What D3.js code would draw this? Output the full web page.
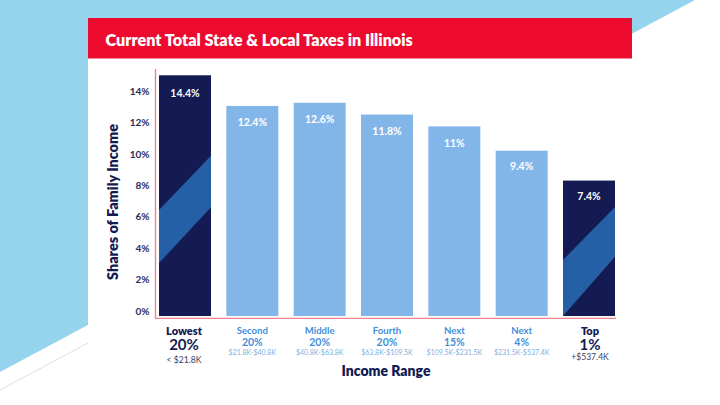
<!DOCTYPE html>
<html>
<head>
<meta charset="utf-8">
<script src="https://cdn.jsdelivr.net/npm/d3@7"></script>
<style>
  html, body { margin: 0; padding: 0; background: #fff; }
  svg { display: block; }
  text { font-family: "Lato", sans-serif; }
</style>
</head>
<body>
<svg id="chart" width="720" height="405"></svg>
<script>
// values
var groups = ["Lowest", "Second", "Middle", "Fourth", "Next", "Next ", "Top"];
var shares = ["20%", "20%", "20%", "20%", "15%", "4%", "1%"];
var ranges = ["< $21.8K", "$21.8K-$40.8K", "$40.8K-$63.8K", "$63.8K-$109.5K", "$109.5K-$231.5K", "$231.5K-$537.4K", "+$537.4K"];
var barLabels = ["14.4%", "12.4%", "12.6%", "11.8%", "11%", "9.4%", "7.4%"];
// bar tops measured against the axis ticks (the drawn bars do not follow their labels)
var barTops = [15.0, 13.05, 13.25, 12.5, 11.75, 10.2, 8.3];
var yTicks = [0, 2, 4, 6, 8, 10, 12, 14];
var barBase = -0.32;

var navy = "#131b52", stripe = "#2560a6", lightBlue = "#83b6e8", red = "#ec0b2e", pink = "#ee8391";

var svg = d3.select("#chart");

// background shapes
svg.append("polygon").attr("points", "0,0 695,0 0,372").attr("fill", "#96d3ec");
svg.append("line").attr("x1", 0).attr("y1", 390).attr("x2", 88).attr("y2", 343)
  .attr("stroke", "#c9c9c9").attr("stroke-width", 0.6);
svg.append("rect").attr("x", 88).attr("y", 58).attr("width", 544).attr("height", 347).attr("fill", "#fff");
svg.append("rect").attr("x", 88).attr("y", 18).attr("width", 544).attr("height", 40.5).attr("fill", red);
svg.append("text").attr("x", 105.5).attr("y", 46).attr("fill", "#fff")
  .attr("font-size", 16.2).attr("font-weight", 800)
  .text("Current Total State & Local Taxes in Illinois");

var x = d3.scaleBand().domain(groups).range([159, 615]).paddingInner(0.228);
var y = d3.scaleLinear().domain([0, 14]).range([311, 91]);

// bars
var bars = svg.append("g").selectAll("g").data(groups).join("g");
bars.append("rect")
  .attr("x", d => x(d))
  .attr("width", x.bandwidth())
  .attr("y", (d, i) => y(barTops[i]))
  .attr("height", (d, i) => y(barBase) - y(barTops[i]))
  .attr("fill", (d, i) => (i == 0 || i == 6) ? navy : lightBlue);

// diagonal bands on the two highlighted bars, given in axis units
function band(i, leftTop, rightTop, leftBot, rightBot) {
  var x0 = x(groups[i]), x1 = x0 + x.bandwidth();
  svg.append("polygon")
    .attr("points", [[x0, y(leftTop)], [x1, y(rightTop)], [x1, y(rightBot)], [x0, y(leftBot)]].join(" "))
    .attr("fill", stripe);
}
band(0, 6.43, 9.88, 3.05, 6.6);
band(6, 3.25, 6.62, -0.32, 3.45);

// value labels
svg.append("g").selectAll("text").data(barLabels).join("text")
  .attr("x", (d, i) => x(groups[i]) + x.bandwidth() / 2)
  .attr("y", (d, i) => y(barTops[i]) + (i == 0 ? 21.5 : i > 4 ? 19.5 : 20.5))
  .attr("text-anchor", "middle").attr("fill", "#fff")
  .attr("font-size", 10.5).attr("font-weight", 700)
  .text(d => d);

// y axis
var yAxis = svg.append("g").attr("transform", "translate(149.5,0)")
  .call(d3.axisLeft(y).tickValues(yTicks).tickSize(0).tickPadding(0).tickFormat(d => d + "%"));
yAxis.select(".domain").remove();
yAxis.selectAll("text").attr("fill", "#2a2c60").attr("font-size", 10).attr("font-weight", 700)
  .style("font-family", "Lato, sans-serif");

// axis lines
svg.append("path").attr("d", "M155.5,69V318.4H616").attr("fill", "none")
  .attr("stroke", pink).attr("stroke-width", 1.4);

// category labels
groups.forEach(function (g, i) {
  var cx = x(g) + x.bandwidth() / 2 + (i == 0 ? -1 : i == 6 ? 1 : 0);
  var dark = i == 0 || i == 6;
  var col = dark ? navy : "#3f8fdc";
  svg.append("text").attr("x", cx).attr("y", dark ? 334.5 : 333.5).attr("text-anchor", "middle")
    .attr("fill", col).attr("font-size", dark ? 11 : 9.6).attr("font-weight", dark ? 800 : 700).text(g.trim());
  svg.append("text").attr("x", cx).attr("y", dark ? 350 : 345.5).attr("text-anchor", "middle")
    .attr("fill", col).attr("font-size", dark ? 15 : 10.5).attr("font-weight", 700).text(shares[i]);
  svg.append("text").attr("x", cx).attr("y", i == 0 ? 363 : i == 6 ? 360 : 354.5).attr("text-anchor", "middle")
    .attr("fill", dark ? "#3b3d66" : "#7fafe0").attr("font-size", dark ? 8.6 : 7).text(ranges[i]);
});

// axis titles
svg.append("text").attr("x", 386).attr("y", 376).attr("text-anchor", "middle")
  .attr("fill", navy).attr("font-size", 14).attr("font-weight", 800).text("Income Range");
svg.append("text").attr("transform", "translate(118,202) rotate(-90)").attr("text-anchor", "middle")
  .attr("fill", navy).attr("font-size", 14.4).attr("font-weight", 800).text("Shares of Family Income");
</script>
</body>
</html>
